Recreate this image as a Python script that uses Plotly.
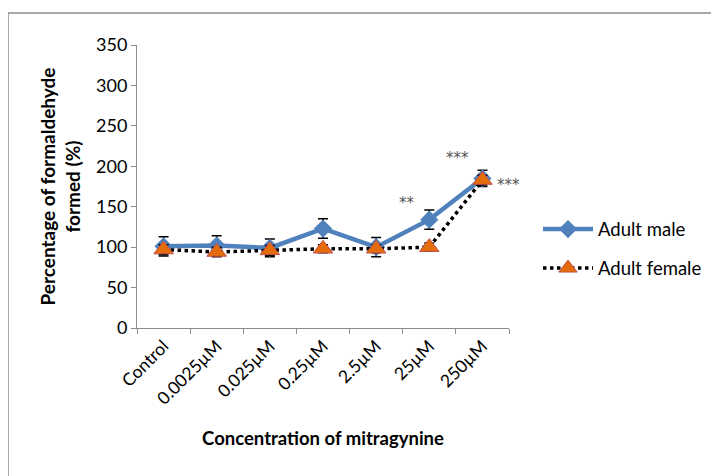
import plotly.graph_objects as go

categories = ["Control", "0.0025µM", "0.025µM", "0.25µM", "2.5µM", "25µM", "250µM"]
male = [101, 102, 99, 123, 100, 134, 185]
male_err = [12, 12, 11, 12, 12, 12, 10]
female = [97, 94, 96, 98, 98, 100, 183]
female_err = [6, 6, 6, 5, 5, 5, 6]
y_ticks = [0, 50, 100, 150, 200, 250, 300, 350]

FONT = "Lato"

fig = go.Figure()
fig.add_trace(go.Scatter(
    x=categories, y=male, name="Adult male", mode="lines+markers", legendgroup="m",
    line=dict(color="#4F81BD", width=4.5),
    marker=dict(symbol="diamond", size=14, color="#4F81BD"),
    error_y=dict(type="data", array=male_err, color="black", thickness=1.5, width=5),
))
fig.add_trace(go.Scatter(
    x=categories, y=female, name="Adult female", mode="lines+markers", legendgroup="f",
    line=dict(color="black", width=3.5, dash="dot"),
    marker=dict(symbol="triangle-up", size=17, color="#E46C0A",
                line=dict(color="#C0504D", width=1)),
    error_y=dict(type="data", array=female_err, color="black", thickness=1.5, width=5),
))

ann_style = dict(showarrow=False, font=dict(family="DejaVu Sans", size=15, color="#555"))
fig.add_annotation(x=categories[5], y=male[5], text="**", xshift=-22, yshift=17, **ann_style)
fig.add_annotation(x=categories[6], y=male[6], text="***", xshift=-25, yshift=20, **ann_style)
fig.add_annotation(x=categories[6], y=female[6], text="***", xshift=26, yshift=-5, **ann_style)

# page body has an 8px margin, so figure coordinates are screen minus 8
OFF = 8
W, H = 711, 468
L, R, T, B = 137 - OFF, 509 - OFF, 45 - OFF, 328 - OFF
pw, ph = R - L, B - T

def px(x):
    return (x - OFF - L) / pw

def py(y):
    return (B - (y - OFF)) / ph

fig.add_shape(type="rect", xref="paper", yref="paper",
              x0=px(8), x1=px(760), y0=py(520), y1=py(13),
              line=dict(color="#8C8C8C", width=1.5), layer="below")

fig.update_layout(
    width=W, height=H,
    margin=dict(l=L, r=W - R, t=T, b=H - B),
    paper_bgcolor="white", plot_bgcolor="white",
    font=dict(family=FONT, size=18, color="black"),
    showlegend=True,
    legend=dict(x=px(538), y=py(249), xanchor="left", yanchor="middle",
                font=dict(family=FONT, size=18.5), tracegroupgap=12,
                itemwidth=50, bgcolor="rgba(0,0,0,0)"),
)
fig.update_xaxes(
    type="category", range=[-0.5, 6.5], tickangle=-45, automargin=False,
    showline=True, linecolor="#8C8C8C", linewidth=1,
    ticks="outside", tickson="boundaries", ticklen=5, tickcolor="#8C8C8C",
    tickfont=dict(family=FONT, size=17.5),
    title=dict(text="<b>Concentration of mitragynine</b>", font=dict(family=FONT, size=18.5), standoff=24),
    showgrid=False, zeroline=False,
)
fig.update_yaxes(
    range=[0, 350], tickvals=y_ticks, automargin=False,
    showline=True, linecolor="#8C8C8C", linewidth=1,
    ticks="outside", ticklen=5, tickcolor="#8C8C8C",
    tickfont=dict(family=FONT, size=18),
    title=dict(text="<b>Percentage of formaldehyde<br>formed (%)</b>", font=dict(family=FONT, size=19), standoff=10),
    showgrid=False, zeroline=False,
)

fig.write_html("out.html")
